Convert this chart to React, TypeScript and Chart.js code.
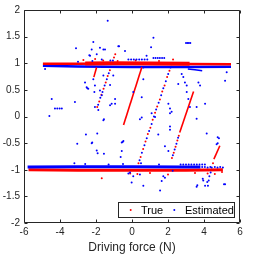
import React, { useEffect, useRef } from "react";
import { Chart, registerables } from "chart.js";

Chart.register(...registerables);

type P = [number, number];

const seriesNames = ["True", "Estimated"];
const xTicks = [-6, -4, -2, 0, 2, 4, 6];
const yTicks = [-2, -1.5, -1, -0.5, 0, 0.5, 1, 1.5, 2];
const xTitle = "Driving force (N)";

// "True" (red) dense bands and solid stretches
const trueTopBand: P[] = [[-4.95, 0.99], [-3.0, 0.99], [-1.0, 0.995], [1.0, 0.99], [3.0, 0.985], [5.5, 0.98]];
const trueTopCore: P[] = [[-2.6, 0.995], [-1.0, 1.0], [1.0, 0.995], [3.2, 0.99]];
const trueBottomBand: P[] = [[-5.75, -1.0], [-3.0, -1.01], [0.0, -1.01], [3.0, -1.01], [5.05, -1.0]];
const trueSegA: P[] = [[-0.47, -0.16], [0.55, 0.93]];
const trueSegB: P[] = [[2.65, -0.3], [3.42, 0.47]];
const trueSegC: P[] = [[-2.12, 0.74], [-1.97, 0.92]];
const trueSegD: P[] = [[4.55, -0.8], [4.88, -0.55]];

// "Estimated" (blue) dense bands
const estTopBand: P[] = [[-4.95, 0.955], [-3.0, 0.94], [0.0, 0.93], [3.0, 0.93], [5.5, 0.935]];
const estBottomBand: P[] = [[-5.8, -0.95], [-3.0, -0.945], [0.0, -0.945], [3.0, -0.95], [3.8, -0.95]];
const estSegA: P[] = [[3.1, 0.89], [3.5, 0.88], [3.9, 0.86]];

// "True" scattered samples
const trueScatter: P[] = [
  [-1.93, 0.18], [-1.82, 0.28], [-1.7, 0.41], [-1.58, 0.52], [-1.46, 0.64], [-1.35, 0.76], [-1.23, 0.87], [-1.12, 1.0], [-1.0, 1.11], [-0.93, 1.17],
  [0.36, -0.88], [0.48, -0.76], [0.62, -0.61], [0.75, -0.47], [0.88, -0.33], [1.02, -0.21], [1.15, -0.06], [1.28, 0.07], [1.4, 0.19], [1.55, 0.32],
  [1.68, 0.47], [1.81, 0.58], [1.95, 0.74], [2.08, 0.86], [2.2, 0.98], [2.28, 1.07],
  [2.22, -0.78], [2.32, -0.68], [2.42, -0.57], [2.52, -0.45], [2.6, -0.36],
  [4.5, -0.88],
  [-2.7, 1.06], [-2.05, 1.08], [-1.6, 1.05], [-0.8, 1.04], [0.2, 1.05], [1.5, 1.04],
  [-1.68, -1.16], [-0.1, -1.07], [0.3, -1.08], [1.0, -1.06], [2.0, -1.09], [3.5, -1.06], [4.2, -1.07], [4.6, -1.08], [5.0, -1.04],
];

// "Estimated" scattered samples
const estScatter: P[] = [
  [-1.35, 1.8], [-3.11, 1.28], [-2.15, 1.4], [-2.37, 1.15], [-1.96, 1.17], [-1.78, 1.29], [-1.5, 1.26], [-0.72, 1.32], [-4.83, 0.89],
  [-4.46, 0.33], [-4.59, 0.01], [-4.28, 0.15], [-4.15, 0.15], [-4.02, 0.15], [-3.9, 0.15], [-3.17, 0.27], [-2.48, 0.53], [-2.15, 0.7],
  [-2.06, 0.58], [-2.09, 0.46], [-1.78, 0.49], [-1.68, 0.4], [-2.06, 0.18], [-1.87, 0.12], [-1.22, 0.21], [-0.94, 0.33], [-1.56, -0.05],
  [-1.04, 0.77], [-1.22, 0.59], [-2.24, 1.26], [-1.59, 1.26], [-0.76, 1.32], [-2.33, 1.14], [-1.68, 1.07], [-2.61, 0.64], [-2.43, 0.52],
  [-2.52, 0.55], [-1.59, 0.77], [-1.13, 0.24], [0.07, 0.46], [-0.94, 0.24],
  [1.19, 1.48], [1.06, 1.3], [3.0, 1.38], [3.08, 1.38], [3.16, 1.38], [3.24, 1.38], [-0.39, 1.23], [0.81, 1.14], [2.76, 0.8], [2.85, 0.74],
  [2.57, 0.61], [3.69, 0.64], [5.26, 0.83], [5.17, 0.67], [0.63, 0.7], [0.54, 0.36], [0.44, -0.05], [1.09, 0.06], [2.02, 0.24], [2.11, 0.15],
  [2.2, 0.09], [2.11, -0.19], [3.04, 0.46], [3.59, 0.18], [4.06, 0.24], [3.78, 0.58], [2.94, 0.64], [3.04, 0.58], [3.13, 0.33], [3.22, 0.18],
  [1.28, -0.01], [0.63, 0.92], [3.59, -0.04], [2.11, -0.25],
  [1.19, 1.1], [1.31, 1.1], [1.43, 1.1], [1.55, 1.1], [1.67, 1.1], [1.79, 1.1],
  [-0.2, 1.07], [-0.05, 1.07], [0.1, 1.07], [0.25, 1.07], [0.4, 1.07], [0.55, 1.07], [0.7, 1.07], [0.85, 1.07],
  [-3.0, 1.03], [-2.2, 1.04], [-1.2, 1.05],
  [-1.59, -0.07], [0.54, -0.02], [2.11, 0.06], [-2.24, -0.5], [-1.96, -0.64], [-1.56, -0.7], [-0.52, -0.48], [-0.57, -0.65], [-0.63, -0.76],
  [1.46, -0.34], [1.83, -0.56], [2.02, -0.65], [-3.04, -0.51], [-2.56, -0.34], [-1.93, -0.32], [-2.21, -0.49], [-1.91, -0.69], [-0.48, -0.46],
  [-0.57, -0.49], [4.15, -0.32], [4.76, -0.39], [4.7, -0.52], [4.83, -0.41], [4.76, -0.5],
  [-0.11, -1.05], [0.07, -1.12], [-0.02, -1.24], [0.63, -1.3], [1.56, -1.39], [1.74, -1.12], [1.83, -1.15], [1.65, -1.21], [0.44, -1.09],
  [-0.2, -1.07], [3.63, -1.29], [4.18, -1.23], [5.17, -1.27], [2.26, -1.02], [3.93, -1.17], [3.96, -1.2], [4.06, -1.3], [3.59, -1.32], [5.11, -1.27],
  [2.7, -0.9], [2.85, -0.9], [3.0, -0.9], [3.15, -0.9], [3.3, -0.9], [3.45, -0.9], [3.6, -0.9], [3.75, -0.9], [3.9, -0.9], [4.05, -0.9],
  [3.9, -0.95], [4.05, -0.95], [4.2, -0.96], [4.35, -0.95], [4.6, -0.95], [4.75, -0.96], [4.9, -0.95], [5.05, -0.96],
  [-3.2, -0.88], [-2.6, -0.89], [-1.3, -0.9], [-0.5, -0.89], [0.5, -0.88], [1.5, -0.9],
  [-1.88, 0.22], [-1.76, 0.35], [-1.64, 0.46], [-1.52, 0.58], [-1.4, 0.7], [-1.29, 0.81], [-1.06, 1.05],
  [0.42, -0.82], [0.55, -0.68], [0.69, -0.54], [0.82, -0.41], [0.95, -0.27], [1.09, -0.14], [1.22, 0.0], [1.34, 0.13], [1.48, 0.26],
  [1.62, 0.4], [1.74, 0.53], [1.88, 0.66], [2.01, 0.8], [2.14, 0.92],
  [2.27, -0.73], [2.37, -0.62], [2.47, -0.51], [2.56, -0.4],
  [4.43, -0.96], [4.37, -1.05], [4.3, -1.12], [4.26, -1.2], [4.22, -1.3],
];

const RED = "#ff0000";
const BLUE = "#0000ff";
const AXIS = "#262626";
const FONT = "'Liberation Sans', Arial, Helvetica, sans-serif";

const toXY = (arr: P[]) => arr.map(([x, y]) => ({ x, y }));

const lineDs = (data: P[], color: string, width: number, order: number) => ({
  label: "",
  data: toXY(data),
  showLine: true,
  borderColor: color,
  backgroundColor: color,
  borderWidth: width,
  pointRadius: 0,
  fill: false,
  tension: 0,
  order,
});

const dotDs = (label: string, data: P[], color: string, order: number) => ({
  label,
  data: toXY(data),
  showLine: false,
  backgroundColor: color,
  borderColor: color,
  borderWidth: 0,
  pointRadius: 1,
  pointHoverRadius: 1,
  order,
});

const framePlugin = {
  id: "frameLegend",
  afterDraw(chart: any) {
    const { ctx, chartArea: a, scales } = chart;
    const xs = scales.x;
    const ys = scales.y;
    ctx.save();
    ctx.strokeStyle = AXIS;
    ctx.lineWidth = 1;
    const L = Math.round(a.left) + 0.5;
    const R = Math.round(a.right) - 0.5;
    const T = Math.round(a.top) + 0.5;
    const B = Math.round(a.bottom) - 0.5;
    ctx.beginPath();
    ctx.moveTo(L, T);
    ctx.lineTo(R, T);
    ctx.lineTo(R, B);
    ctx.lineTo(L, B);
    ctx.closePath();
    const tl = 3;
    for (const v of xTicks) {
      const px = Math.round(xs.getPixelForValue(v)) + 0.5;
      ctx.moveTo(px, B);
      ctx.lineTo(px, B - tl);
      ctx.moveTo(px, T);
      ctx.lineTo(px, T + tl);
    }
    for (const v of yTicks) {
      const py = Math.round(ys.getPixelForValue(v)) + 0.5;
      ctx.moveTo(L, py);
      ctx.lineTo(L + tl, py);
      ctx.moveTo(R, py);
      ctx.lineTo(R - tl, py);
    }
    ctx.stroke();

    // legend box (bottom-right, inside axes)
    const w = 117;
    const h = 16;
    const bx = Math.round(a.right) - 5 - w;
    const by = Math.round(a.bottom) - 5 - h;
    ctx.fillStyle = "#ffffff";
    ctx.fillRect(bx, by, w, h);
    ctx.strokeStyle = AXIS;
    ctx.strokeRect(bx + 0.5, by + 0.5, w - 1, h - 1);
    const cy = by + h / 2;
    ctx.font = `11px ${FONT}`;
    ctx.textBaseline = "middle";
    ctx.textAlign = "left";
    const colors = [RED, BLUE];
    const dotX = [bx + 12.7, bx + 56.3];
    const txtX = [bx + 23, bx + 67];
    seriesNames.forEach((name, i) => {
      ctx.fillStyle = colors[i];
      ctx.beginPath();
      ctx.arc(dotX[i], cy, 1, 0, Math.PI * 2);
      ctx.fill();
      ctx.fillStyle = "#000000";
      ctx.fillText(name, txtX[i], cy + 0.5);
    });
    ctx.restore();
  },
};

export default function App() {
  const ref = useRef<HTMLCanvasElement | null>(null);
  useEffect(() => {
    if (!ref.current) return;
    Chart.defaults.font.family = FONT;
    const chart = new Chart(ref.current, {
      type: "scatter",
      data: {
        datasets: [
          dotDs(seriesNames[0], trueScatter, RED, 1),
          dotDs(seriesNames[1], estScatter, BLUE, 0),
          lineDs(trueSegA, RED, 1.6, 2),
          lineDs(trueSegB, RED, 1.6, 2),
          lineDs(trueSegC, RED, 1.6, 2),
          lineDs(trueSegD, RED, 1.6, 2),
          lineDs(estSegA, BLUE, 1.5, 3),
          lineDs(trueTopCore, RED, 4, 4),
          lineDs(trueTopBand, RED, 2.5, 4),
          lineDs(trueBottomBand, RED, 3, 4),
          lineDs(estTopBand, BLUE, 2.5, 5),
          lineDs(estBottomBand, BLUE, 3, 3),
        ] as any,
      },
      options: {
        responsive: false,
        devicePixelRatio: 1,
        animation: false,
        events: [],
        layout: { padding: { left: 0, right: 13, top: 6, bottom: 0 } },
        plugins: {
          legend: { display: false },
          tooltip: { enabled: false },
        },
        scales: {
          x: {
            type: "linear",
            min: -6,
            max: 6,
            afterBuildTicks: (s: any) => {
              s.ticks = xTicks.map((v) => ({ value: v }));
            },
            afterFit: (s: any) => {
              s.height = 33;
            },
            grid: { display: false, drawTicks: false },
            border: { display: false },
            ticks: {
              color: AXIS,
              font: { size: 10, family: FONT },
              padding: 3,
              maxRotation: 0,
              autoSkip: false,
              callback: (v: any) => String(v),
            },
            title: {
              display: true,
              text: xTitle,
              color: AXIS,
              font: { size: 12, family: FONT },
              padding: { top: 0, bottom: 1 },
            },
          },
          y: {
            type: "linear",
            min: -2,
            max: 2,
            afterBuildTicks: (s: any) => {
              s.ticks = yTicks.map((v) => ({ value: v }));
            },
            afterFit: (s: any) => {
              s.width = 24;
            },
            grid: { display: false, drawTicks: false },
            border: { display: false },
            ticks: {
              color: AXIS,
              font: { size: 10, family: FONT },
              padding: 4,
              autoSkip: false,
              callback: (v: any) => String(v),
            },
          },
        },
      } as any,
      plugins: [framePlugin],
    });
    return () => chart.destroy();
  }, []);
  return (
    <div style={{ position: "fixed", left: 0, top: 0, width: 253, height: 256, background: "#fff" }}>
      <canvas ref={ref} width={253} height={256} style={{ display: "block" }} />
    </div>
  );
}
